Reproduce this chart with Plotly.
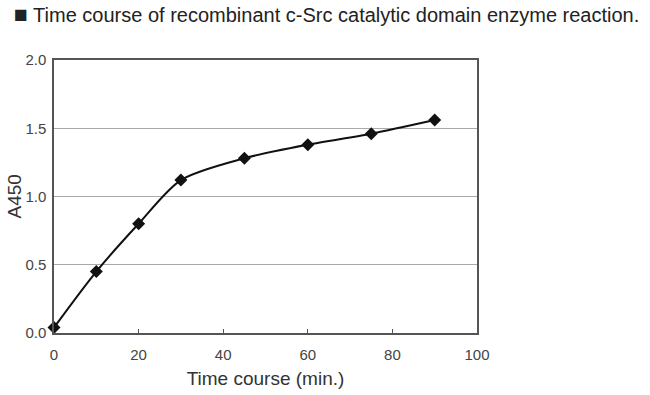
import plotly.graph_objects as go

time_min = [0, 10, 20, 30, 45, 60, 75, 90]
a450 = [0.04, 0.45, 0.80, 1.12, 1.28, 1.38, 1.46, 1.56]

x_ticks = [0, 20, 40, 60, 80, 100]
y_ticks = [0.0, 0.5, 1.0, 1.5, 2.0]

title_text = "<span style='font-size:23px'>■</span> Time course of recombinant c-Src catalytic domain enzyme reaction."

fig = go.Figure()
fig.add_trace(go.Scatter(
    x=time_min, y=a450, mode="lines+markers",
    line=dict(color="#111111", width=2, shape="spline", smoothing=0.8),
    marker=dict(symbol="diamond", size=10, color="#111111"),
    cliponaxis=False, showlegend=False, hoverinfo="skip",
))

font_family = "Liberation Sans, Arial, Helvetica, sans-serif"
W, H = 650, 395
fig.update_layout(
    width=W, height=H,
    margin=dict(l=54, r=173, t=60, b=62, autoexpand=False),
    paper_bgcolor="white", plot_bgcolor="white",
    font=dict(family=font_family, color="#333333"),
    hovermode=False,
    title=dict(text=title_text, xref="container", yref="container",
               x=14 / W, y=1 - 15 / H, xanchor="left", yanchor="middle",
               font=dict(size=20, color="#222222", family=font_family)),
    xaxis=dict(range=[0, 100], tickvals=x_ticks, ticktext=[str(v) for v in x_ticks],
               automargin=False,
               showgrid=False, zeroline=False,
               showline=True, linecolor="#555555", linewidth=1.5, mirror=True,
               ticks="inside", ticklen=4, tickcolor="#555555",
               ticklabelstandoff=7,
               tickfont=dict(size=15, color="#444444"),
               title=dict(text="Time course (min.)", font=dict(size=19, color="#333333"), standoff=10)),
    yaxis=dict(range=[0, 2], tickvals=y_ticks, ticktext=[f"{v:.1f}" for v in y_ticks],
               automargin=False,
               showgrid=True, gridcolor="#aaaaaa", gridwidth=1.3, zeroline=False,
               showline=True, linecolor="#555555", linewidth=1.5, mirror=True,
               ticks="", ticklabelstandoff=3,
               tickfont=dict(size=15, color="#444444")),
    annotations=[dict(text="A450", xref="paper", yref="paper", x=0, y=0.5,
                      xshift=-40, textangle=-90, showarrow=False,
                      xanchor="center", yanchor="middle",
                      font=dict(size=19, color="#333333", family=font_family))],
)

fig.write_html("out.html", config={"displayModeBar": False},
               post_script="document.body.style.margin='0';")
